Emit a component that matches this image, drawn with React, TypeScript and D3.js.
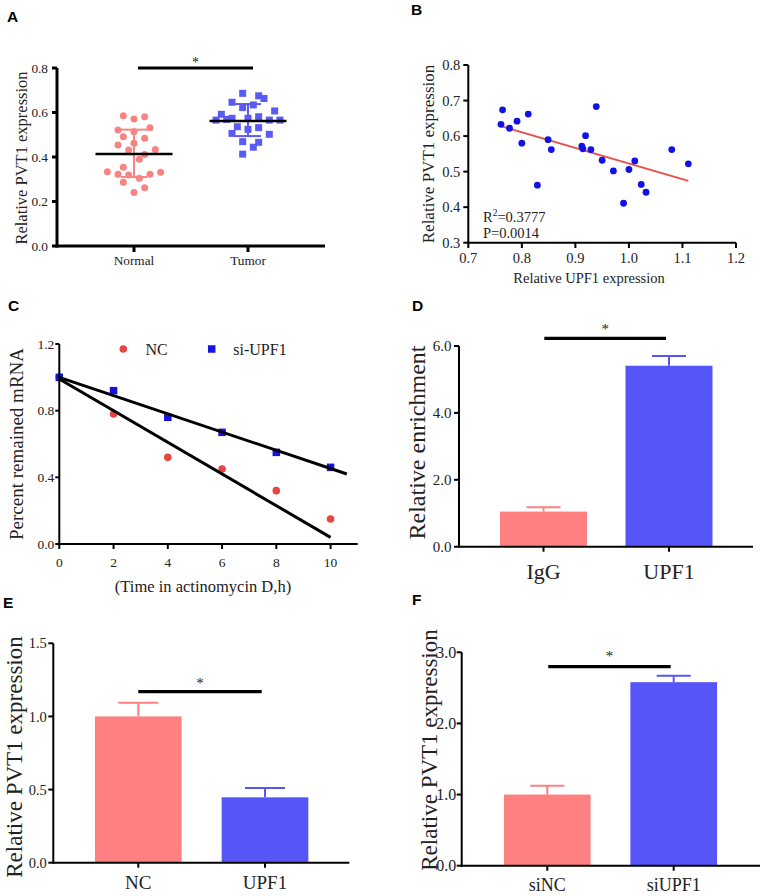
import React from "react";
import * as d3 from "d3";

// ---------- Panel A data ----------
const groupsA = ["Normal", "Tumor"];
const normalVals = [0.585, 0.571, 0.581, 0.521, 0.514, 0.532, 0.491, 0.484, 0.454, 0.462, 0.431, 0.434, 0.411, 0.39, 0.354, 0.334, 0.331, 0.322, 0.319, 0.322, 0.304, 0.286, 0.262, 0.241];
const normalJitter = [-2, 0, 2, -3, 0, 3, -2, 2, -3, 0, -1, 4, 2, 1, -2, -5, 5, -3, -1, 3, 1, -2, 2, 0];
const tumorVals = [0.686, 0.675, 0.663, 0.646, 0.622, 0.634, 0.607, 0.592, 0.566, 0.569, 0.574, 0.574, 0.581, 0.566, 0.566, 0.536, 0.524, 0.532, 0.506, 0.502, 0.469, 0.466, 0.444, 0.413];
const tumorJitter = [-1, 2, 3, -3, -1, 1, 5, -5, -6, -4, -3, 0, 2, 4, 6, -2, 0, 2, -3, 4, -1, 2, 1, -1];
const meanA = [0.413, 0.562];
const sdLowA = [0.31, 0.494];
const sdHighA = [0.523, 0.638];
const yTicksA = [0, 0.2, 0.4, 0.6, 0.8];

// ---------- Panel B data ----------
const upf1X = [0.764, 0.761, 0.777, 0.791, 0.812, 0.8, 0.829, 0.849, 0.855, 0.912, 0.914, 0.919, 0.929, 0.939, 0.95, 0.971, 0.99, 1.0, 1.011, 1.023, 1.032, 1.08, 1.111];
const pvt1Y = [0.674, 0.633, 0.622, 0.642, 0.662, 0.58, 0.462, 0.59, 0.562, 0.572, 0.564, 0.601, 0.562, 0.683, 0.532, 0.502, 0.411, 0.506, 0.53, 0.464, 0.442, 0.562, 0.522];
const fitBx = [0.761, 1.111];
const fitBy = [0.628, 0.474];
const xTicksB = [0.7, 0.8, 0.9, 1.0, 1.1, 1.2];
const yTicksB = [0.3, 0.4, 0.5, 0.6, 0.7, 0.8];

// ---------- Panel C data ----------
const timeC = [0, 2, 4, 6, 8, 10];
const ncC = [1.0, 0.78, 0.52, 0.45, 0.32, 0.15];
const siC = [1.0, 0.92, 0.76, 0.67, 0.55, 0.46];
const ncFitT = [0, 10];
const ncFitY = [0.99, 0.04];
const siFitT = [0, 10.6];
const siFitY = [1.0, 0.42];
const xTicksC = [0, 2, 4, 6, 8, 10];
const yTicksC = [0, 0.4, 0.8, 1.2];

// ---------- Panels D/E/F data ----------
const catsD = ["IgG", "UPF1"];
const valsD = [1.05, 5.41];
const errD = [0.13, 0.29];
const yTicksD = [0, 2, 4, 6];

const catsE = ["NC", "UPF1"];
const valsE = [1.0, 0.447];
const errE = [0.094, 0.063];
const yTicksE = [0, 0.5, 1.0, 1.5];

const catsF = ["siNC", "siUPF1"];
const valsF = [1.0, 2.58];
const errF = [0.125, 0.09];
const yTicksF = [0, 1, 2, 3];

const SERIF = "'Liberation Serif','Times New Roman',Times,serif";
const SANS = "'Liberation Sans',Arial,Helvetica,sans-serif";
const PINK = "#fe8080";
const BLUE = "#5656f8";

function Letter({ x, y, t }: { x: number; y: number; t: string }) {
  return (
    <text x={x} y={y} fontFamily={SANS} fontWeight="bold" fontSize={15.5} fill="#000">
      {t}
    </text>
  );
}

function YAxis({ x, scale, ticks, fmt, fs, labelGap, sw, tickLen }: any) {
  const [r0, r1] = scale.range();
  return (
    <g>
      <line x1={x} x2={x} y1={r0 + sw / 2} y2={r1} stroke="#000" strokeWidth={sw} />
      {ticks.map((t: number) => (
        <g key={t}>
          <line x1={x - tickLen} x2={x} y1={scale(t)} y2={scale(t)} stroke="#000" strokeWidth={sw} />
          <text x={x - labelGap} y={scale(t)} dy="0.35em" textAnchor="end" fontFamily={SERIF} fontSize={fs} fill="#222">
            {fmt(t)}
          </text>
        </g>
      ))}
    </g>
  );
}

function RotLabel({ x, y, t, fs }: any) {
  return (
    <text transform={`translate(${x},${y}) rotate(-90)`} textAnchor="middle" fontFamily={SERIF} fontSize={fs} fill="#222">
      {t}
    </text>
  );
}

function SigBar({ x1, x2, y, sw, starY, fs }: any) {
  return (
    <g>
      <line x1={x1} x2={x2} y1={y} y2={y} stroke="#000" strokeWidth={sw} />
      <text x={(x1 + x2) / 2} y={starY} textAnchor="middle" fontFamily={SERIF} fontSize={fs} fill="#222">
        *
      </text>
    </g>
  );
}

function PanelA() {
  const y = d3.scaleLinear().domain([0, 0.8]).range([246, 68]);
  const x = d3.scalePoint<string>().domain(groupsA).range([134, 248]);
  const jit = 5.33;
  const f = d3.format(".1f");
  const cx0 = x("Normal")!;
  const cx1 = x("Tumor")!;
  const sq = 7;
  return (
    <g>
      <Letter x={7} y={22} t="A" />
      {normalVals.map((v, i) => (
        <circle key={"n" + i} cx={cx0 + normalJitter[i] * jit} cy={y(v)} r={3.5} fill="#f78383" />
      ))}
      {tumorVals.map((v, i) => (
        <rect key={"t" + i} x={cx1 + tumorJitter[i] * jit - sq / 2} y={y(v) - sq / 2} width={sq} height={sq} fill="#5b5bf3" />
      ))}
      {[cx0, cx1].map((cx, i) => (
        <g key={i} stroke={i === 0 ? "#f78383" : "#5b5bf3"} strokeWidth={2}>
          <line x1={cx} x2={cx} y1={y(sdLowA[i])} y2={y(sdHighA[i])} />
          <line x1={cx - 13} x2={cx + 13} y1={y(sdLowA[i])} y2={y(sdLowA[i])} />
          <line x1={cx - 13} x2={cx + 13} y1={y(sdHighA[i])} y2={y(sdHighA[i])} />
        </g>
      ))}
      {[cx0, cx1].map((cx, i) => (
        <line key={"m" + i} x1={cx - 38.5} x2={cx + 38.5} y1={y(meanA[i])} y2={y(meanA[i])} stroke="#000" strokeWidth={2.5} />
      ))}
      <YAxis x={57} scale={y} ticks={yTicksA} fmt={f} fs={13.3} labelGap={9} sw={3} tickLen={5} />
      <line x1={55.5} x2={325} y1={246} y2={246} stroke="#000" strokeWidth={3} />
      {groupsA.map((g) => (
        <g key={g}>
          <line x1={x(g)} x2={x(g)} y1={246} y2={252} stroke="#000" strokeWidth={3} />
          <text x={x(g)} y={265} textAnchor="middle" fontFamily={SERIF} fontSize={13.3} fill="#222">
            {g}
          </text>
        </g>
      ))}
      <RotLabel x={27} y={158} t="Relative PVT1 expression" fs={16.5} />
      <SigBar x1={138} x2={253} y={68} sw={3} starY={67} fs={14} />
    </g>
  );
}

function PanelB() {
  const x = d3.scaleLinear().domain([0.7, 1.2]).range([468.3, 736]);
  const y = d3.scaleLinear().domain([0.3, 0.8]).range([242.7, 65]);
  const f = d3.format(".1f");
  const line = d3.line<number>().x((d) => x(fitBx[d])).y((d) => y(fitBy[d]));
  return (
    <g>
      <Letter x={411} y={15} t="B" />
      <path d={line([0, 1]) || ""} stroke="#e8504a" strokeWidth={2} fill="none" />
      {upf1X.map((v, i) => (
        <circle key={i} cx={x(v)} cy={y(pvt1Y[i])} r={3.4} fill="#1212e6" />
      ))}
      <YAxis x={468.3} scale={y} ticks={yTicksB} fmt={f} fs={14.5} labelGap={8} sw={2} tickLen={5} />
      <line x1={467.3} x2={736} y1={242.7} y2={242.7} stroke="#000" strokeWidth={2} />
      {xTicksB.map((t) => (
        <g key={t}>
          <line x1={x(t)} x2={x(t)} y1={242.7} y2={248} stroke="#000" strokeWidth={2} />
          <text x={x(t)} y={263} textAnchor="middle" fontFamily={SERIF} fontSize={14.5} fill="#222">
            {f(t)}
          </text>
        </g>
      ))}
      <text x={589} y={283} textAnchor="middle" fontFamily={SERIF} fontSize={14.5} fill="#222">
        Relative UPF1 expression
      </text>
      <RotLabel x={434} y={154} t="Relative PVT1 expression" fs={17} />
      <text x={483} y={222} fontFamily={SERIF} fontSize={14.5} fill="#222">
        R<tspan dy={-6} fontSize={9.5}>2</tspan>
        <tspan dy={6}>=0.3777</tspan>
      </text>
      <text x={483} y={238} fontFamily={SERIF} fontSize={14.5} fill="#222">
        P=0.0014
      </text>
    </g>
  );
}

function PanelC() {
  const x = d3.scaleLinear().domain([0, 11]).range([59.3, 357.7]);
  const y = d3.scaleLinear().domain([0, 1.2]).range([544, 344]);
  const f = d3.format(".1f");
  const ncLine = d3.line<number>().x((i) => x(ncFitT[i])).y((i) => y(ncFitY[i]));
  const siLine = d3.line<number>().x((i) => x(siFitT[i])).y((i) => y(siFitY[i]));
  const sq = 7.5;
  return (
    <g>
      <Letter x={8} y={311} t="C" />
      {timeC.map((t, i) => (
        <circle key={"c" + i} cx={x(t)} cy={y(ncC[i])} r={3.8} fill="#e84444" />
      ))}
      {timeC.map((t, i) => (
        <rect key={"s" + i} x={x(t) - sq / 2} y={y(siC[i]) - sq / 2} width={sq} height={sq} fill="#1414e0" />
      ))}
      <path d={ncLine([0, 1]) || ""} stroke="#000" strokeWidth={3} fill="none" />
      <path d={siLine([0, 1]) || ""} stroke="#000" strokeWidth={3} fill="none" />
      <YAxis x={59.3} scale={y} ticks={yTicksC} fmt={f} fs={13.5} labelGap={5} sw={2} tickLen={4} />
      <line x1={58.3} x2={357.7} y1={544} y2={544} stroke="#000" strokeWidth={2} />
      {xTicksC.map((t) => (
        <g key={t}>
          <line x1={x(t)} x2={x(t)} y1={544} y2={549} stroke="#000" strokeWidth={2} />
          <text x={x(t)} y={567} textAnchor="middle" fontFamily={SERIF} fontSize={13.5} fill="#222">
            {t}
          </text>
        </g>
      ))}
      <text x={203} y={592} textAnchor="middle" fontFamily={SERIF} fontSize={16.5} fill="#222">
        (Time in actinomycin D,h)
      </text>
      <RotLabel x={23} y={444} t="Percent remained mRNA" fs={19} />
      <circle cx={123.3} cy={349} r={3.8} fill="#e84444" />
      <text x={145.5} y={354.5} fontFamily={SERIF} fontSize={16} fill="#222">
        NC
      </text>
      <rect x={211.7 - sq / 2} y={349 - sq / 2} width={sq} height={sq} fill="#1414e0" />
      <text x={233.3} y={354.5} fontFamily={SERIF} fontSize={16} fill="#222">
        si-UPF1
      </text>
    </g>
  );
}

function BarPanel({ cats, vals, errs, ticks, axisX, axisEnd, yBase, yTop, yMax, centers, barW, capW, tickFs, labelGap, catFs, catY, ylabel, ylabelX, ylabelY, ylabelFs, sig, letter }: any) {
  const y = d3.scaleLinear().domain([0, yMax]).range([yBase, yTop]);
  const x = d3.scalePoint<string>().domain(cats).range(centers);
  const f = d3.format(".1f");
  const colors = [PINK, BLUE];
  return (
    <g>
      <Letter x={letter.x} y={letter.y} t={letter.t} />
      {cats.map((c: string, i: number) => {
        const cx = x(c)!;
        const top = y(vals[i]);
        const et = y(vals[i] + errs[i]);
        return (
          <g key={c}>
            <line x1={cx} x2={cx} y1={top} y2={et} stroke={colors[i]} strokeWidth={2} />
            <line x1={cx - capW / 2} x2={cx + capW / 2} y1={et} y2={et} stroke={colors[i]} strokeWidth={2} />
            <rect x={cx - barW / 2} y={top} width={barW} height={yBase - top} fill={colors[i]} />
          </g>
        );
      })}
      <YAxis x={axisX} scale={y} ticks={ticks} fmt={f} fs={tickFs} labelGap={labelGap} sw={2} tickLen={5} />
      <line x1={axisX - 1} x2={axisEnd} y1={yBase} y2={yBase} stroke="#000" strokeWidth={2} />
      {cats.map((c: string) => (
        <g key={c}>
          <line x1={x(c)} x2={x(c)} y1={yBase} y2={yBase + 5} stroke="#000" strokeWidth={2} />
          <text x={x(c)} y={catY} textAnchor="middle" fontFamily={SERIF} fontSize={catFs} fill="#222">
            {c}
          </text>
        </g>
      ))}
      <RotLabel x={ylabelX} y={ylabelY} t={ylabel} fs={ylabelFs} />
      <SigBar x1={sig.x1} x2={sig.x2} y={sig.y} sw={3.3} starY={sig.starY} fs={15} />
    </g>
  );
}

export default function App() {
  return (
    <svg width={760} height={896} style={{ position: "absolute", left: 0, top: 0, background: "#fff" }}>
      <rect width={760} height={896} fill="#fff" />
      <PanelA />
      <PanelB />
      <PanelC />
      <BarPanel
        cats={catsD} vals={valsD} errs={errD} ticks={yTicksD} yMax={6}
        axisX={459} axisEnd={753} yBase={546.7} yTop={346} centers={[543.5, 669]}
        barW={87} capW={34} tickFs={15} labelGap={7.5} catFs={22} catY={579}
        ylabel="Relative enrichment" ylabelX={425} ylabelY={442.5} ylabelFs={24}
        sig={{ x1: 544.3, x2: 666, y: 338.3, starY: 334 }} letter={{ x: 412, y: 311, t: "D" }}
      />
      <BarPanel
        cats={catsE} vals={valsE} errs={errE} ticks={yTicksE} yMax={1.5}
        axisX={53.3} axisEnd={349.3} yBase={862.7} yTop={643.3} centers={[138.3, 265]}
        barW={86.7} capW={40} tickFs={14.5} labelGap={6.5} catFs={19} catY={889}
        ylabel="Relative PVT1 expression" ylabelX={22} ylabelY={757} ylabelFs={23}
        sig={{ x1: 138.3, x2: 261.7, y: 691.7, starY: 688 }} letter={{ x: 3, y: 608, t: "E" }}
      />
      <BarPanel
        cats={catsF} vals={valsF} errs={errF} ticks={yTicksF} yMax={3}
        axisX={461.7} axisEnd={760} yBase={865.7} yTop={652.3} centers={[547.3, 673.7]}
        barW={86.7} capW={34} tickFs={16} labelGap={5.5} catFs={18} catY={891}
        ylabel="Relative PVT1 expression" ylabelX={437} ylabelY={750} ylabelFs={23}
        sig={{ x1: 548.3, x2: 670.7, y: 666.7, starY: 661 }} letter={{ x: 412, y: 605, t: "F" }}
      />
    </svg>
  );
}
